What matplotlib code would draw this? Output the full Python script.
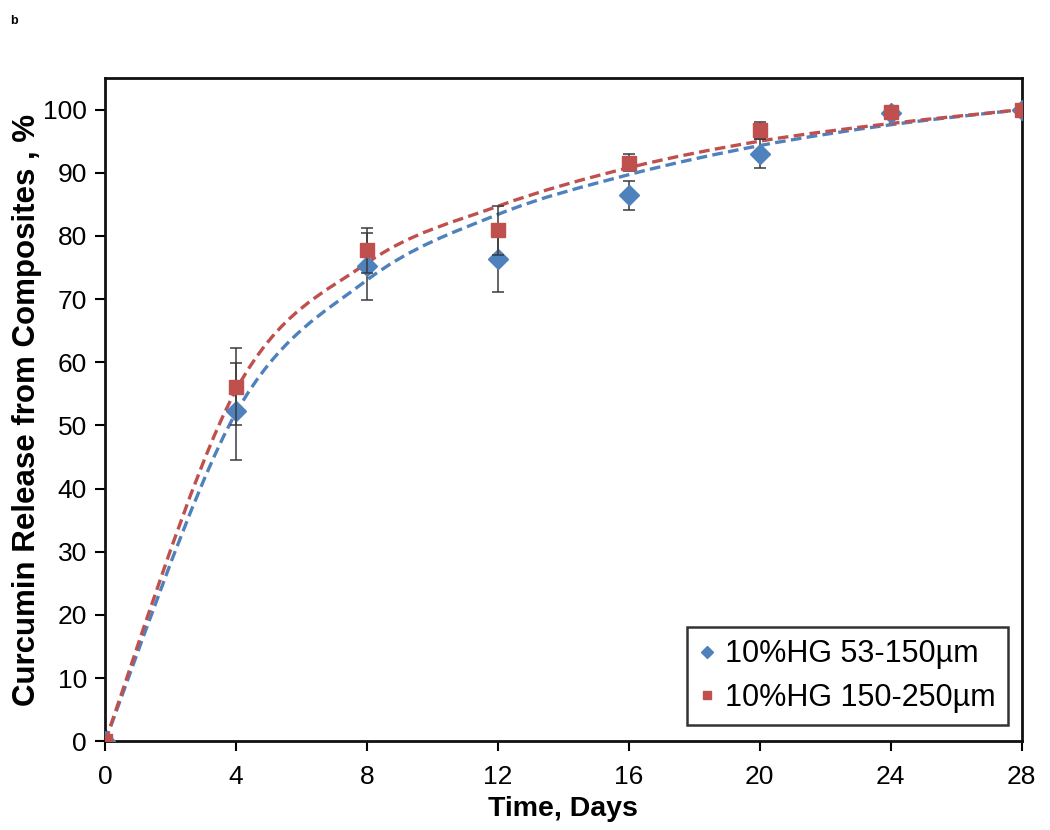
import numpy as np
import matplotlib.pyplot as plt
from matplotlib.path import Path
from matplotlib.patches import PathPatch

plt.rcParams['font.family'] = ['Liberation Sans', 'DejaVu Sans']

days = [0, 4, 8, 12, 16, 20, 24, 28]

# measured release, %
small_vals = [0, 52.2, 75.2, 76.4, 86.4, 93.0, 99.5, 100]
small_err = [0, 7.7, 5.3, 5.3, 2.3, 2.3, 0.5, 0]
large_vals = [0, 56.1, 77.7, 80.9, 91.6, 96.7, 99.6, 100]
large_err = [0, 6.1, 3.5, 3.9, 1.4, 1.4, 0.8, 0]

# fitted curve values at the same days
small_fit = [0, 52.0, 73.0, 83.4, 89.7, 94.3, 97.6, 100]
large_fit = [0, 55.6, 75.7, 84.7, 90.8, 95.0, 97.8, 100]

labels = ['10%HG 53-150µm', '10%HG 150-250µm']
c_blue = '#4F81BD'
c_red = '#C0504D'


# smoothed line like excel: bezier segments through the points
def smooth_path(x, y):
    pts = np.column_stack([x, y]).astype(float)
    n = len(pts)
    verts = [pts[0]]
    codes = [Path.MOVETO]
    for i in range(n - 1):
        p0 = pts[max(i - 1, 0)]
        p1 = pts[i]
        p2 = pts[i + 1]
        p3 = pts[min(i + 2, n - 1)]
        verts += [p1 + (p2 - p0) / 6, p2 - (p3 - p1) / 6, p2]
        codes += [Path.CURVE4] * 3
    return Path(verts, codes)


fig = plt.figure(figsize=(10.5, 8.3), dpi=100)
ax = fig.add_axes([0.1, 0.107, 0.873, 0.799])

for fit, col in [(small_fit, c_blue), (large_fit, c_red)]:
    ax.add_patch(PathPatch(smooth_path(days, fit), fill=False, edgecolor=col,
                           lw=2.4, ls=(0, (3.2, 1.6)), zorder=2))

ax.errorbar(days, small_vals, yerr=small_err, fmt='D', color=c_blue, ms=10,
            ecolor='#3a3a3a', elinewidth=1.1, capsize=4, capthick=1.1,
            label=labels[0], zorder=3)
ax.errorbar(days, large_vals, yerr=large_err, fmt='s', color=c_red, ms=9.5,
            ecolor='#3a3a3a', elinewidth=1.1, capsize=4, capthick=1.1,
            label=labels[1], zorder=4)

ax.set_xlim(0, 28)
ax.set_ylim(0, 105)
ax.set_xticks(days)
ax.set_yticks(np.arange(0, 101, 10))
ax.tick_params(labelsize=19, direction='out', length=7, width=1.5, pad=6)
ax.tick_params(axis='x', pad=10)
for s in ax.spines.values():
    s.set_linewidth(2)
    s.set_color('#111111')

ax.set_xlabel('Time, Days', fontsize=20.5, fontweight='bold', labelpad=5)
ax.set_ylabel('Curcumin Release from Composites , %', fontsize=22.5,
              fontweight='bold', labelpad=1)

handles, labs = ax.get_legend_handles_labels()
handles = [h[0] for h in handles]
leg = ax.legend(handles, labs, loc='lower right', bbox_to_anchor=(0.985, 0.024),
                fontsize=22, frameon=True, fancybox=False, markerscale=0.65,
                handlelength=0.5, handletextpad=0.35, borderpad=0.4,
                labelspacing=0.45, borderaxespad=0)
leg.get_frame().set_edgecolor('black')
leg.get_frame().set_linewidth(1.8)

fig.text(0.01, 0.982, 'b', fontsize=9, fontweight='bold', va='top')

fig.savefig('out.png', dpi=100)
